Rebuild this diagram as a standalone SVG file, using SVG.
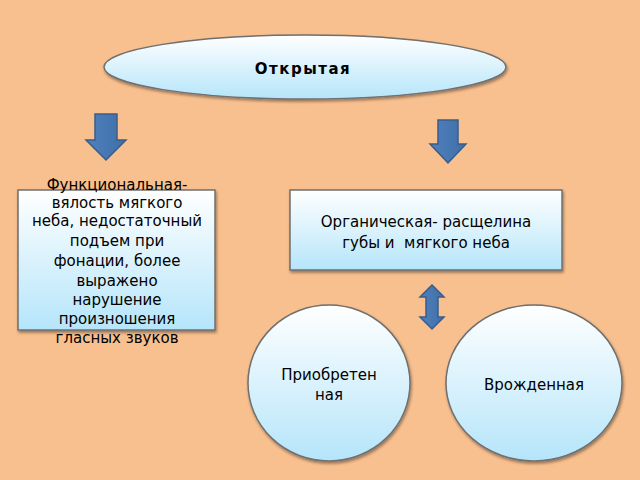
<svg xmlns="http://www.w3.org/2000/svg" width="640" height="480" viewBox="0 0 640 480">
<defs>
<linearGradient id="g" x1="0" y1="0" x2="0" y2="1"><stop offset="0" stop-color="#ffffff"/><stop offset="1" stop-color="#b5e5fa"/></linearGradient>
<linearGradient id="ga" x1="0" y1="0" x2="1" y2="0"><stop offset="0" stop-color="#4f81bd"/><stop offset="1" stop-color="#3f6fa8"/></linearGradient>
<filter id="s" x="-10%" y="-10%" width="130%" height="130%"><feDropShadow dx="1" dy="2" stdDeviation="1.5" flood-opacity="0.4"/></filter>
</defs>
<style>
.n{fill:url(#g);stroke:#6f6f6f;stroke-width:1.5;filter:url(#s)}
.a{fill:url(#ga);stroke:#385d8a;stroke-width:1.5}
text{font-family:"DejaVu Sans",sans-serif;font-size:15px;fill:#000;text-anchor:middle}
</style>
<rect width="640" height="480" fill="#f9c08f"/>
<g id="top"><ellipse class="n" cx="305" cy="67" rx="201" ry="32"/><text x="303" y="74" font-weight="bold" font-size="18" letter-spacing="1.5">Открытая</text></g>
<g id="connectors">
<path class="a" d="M95,114h22v26h9l-20,20l-20,-20h9z"/>
<path class="a" d="M438,120h20v24h8l-18,19l-18,-19h8z"/>
<path class="a" d="M432,285l12,12h-6v20h6l-12,12l-12,-12h6v-20h-6z"/>
</g>
<g id="func"><rect class="n" x="18" y="190" width="197" height="140"/>
<text x="117" y="190">Функциональная-</text><text x="117" y="208">вялость мягкого</text><text x="117" y="226">неба, недостаточный</text><text x="117" y="246">подъем при</text><text x="117" y="266">фонации, более</text><text x="117" y="286">выражено</text><text x="117" y="305">нарушение</text><text x="117" y="324">произношения</text><text x="117" y="343">гласных звуков</text></g>
<g id="org"><rect class="n" x="290" y="190" width="272" height="80"/>
<text x="426" y="227">Органическая- расщелина</text><text x="426" y="248" xml:space="preserve">губы и  мягкого неба</text></g>
<g id="acq"><ellipse class="n" cx="329" cy="383" rx="81" ry="78"/><text x="329" y="380">Приобретен</text><text x="329" y="400">ная</text></g>
<g id="cong"><ellipse class="n" cx="534" cy="383" rx="88" ry="78"/><text x="534" y="390">Врожденная</text></g>
</svg>
